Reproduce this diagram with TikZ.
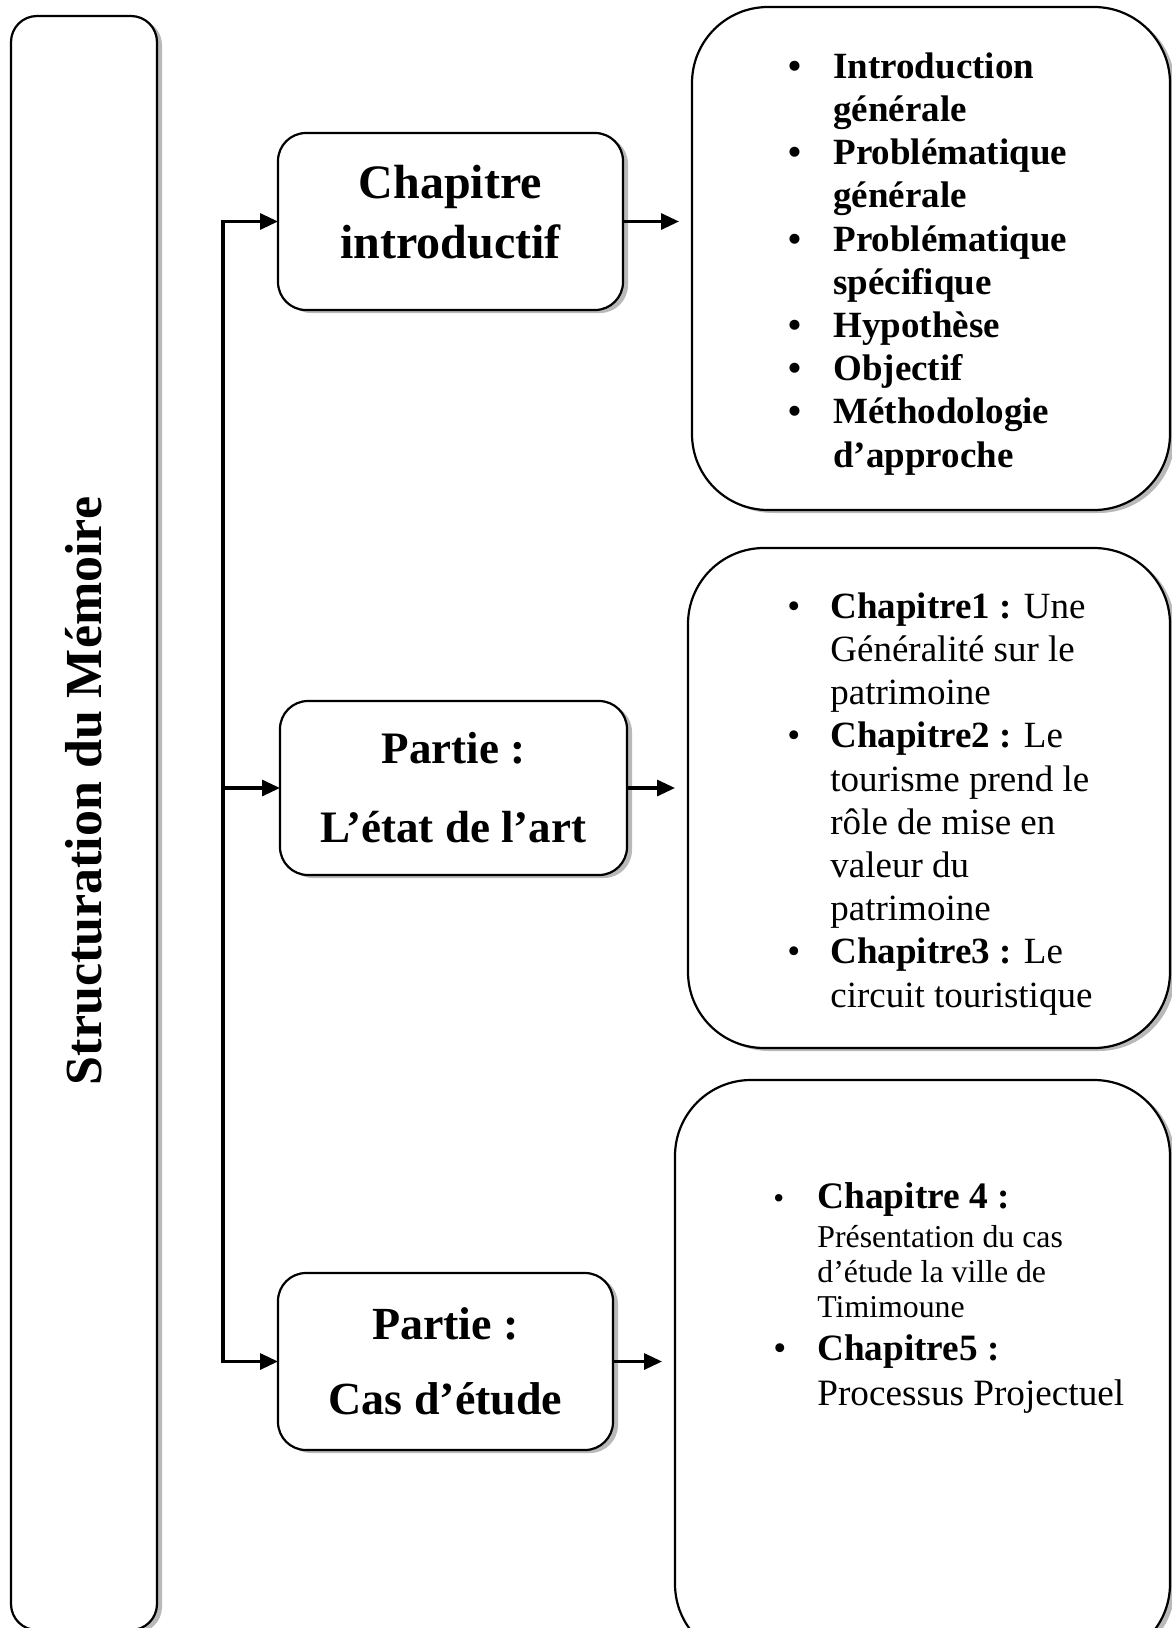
\documentclass[tikz,border=0pt]{standalone}
\usepackage{fontspec}
\setmainfont{Liberation Serif}
\usetikzlibrary{arrows.meta, shadows}

\tikzset{
  cadre/.style={draw, line width=1.1pt, fill=white, rounded corners=13pt,
    inner sep=0pt, outer sep=0pt,
    drop shadow={shadow xshift=2.5pt, shadow yshift=-1.5pt, opacity=.55}},
  partie/.style={cadre, rounded corners=14pt, align=center},
  liste/.style={cadre, rounded corners=38pt},
  puces/.style={anchor=west, inner sep=0pt},
  fleche/.style={line width=1.6pt, -{Triangle[length=9pt, width=8pt]}},
}

\begin{document}
\begin{tikzpicture}[x=0.5pt, y=-0.5pt]
\useasboundingbox (0,0) rectangle (1172,1628);
\clip (0,0) rectangle (1172,1628);

% Bandeau du memoire
\node[cadre, minimum width=73pt, minimum height=807pt] (memoire) at (84,823) {};
\node[rotate=90, font=\bfseries\fontsize{26}{30}\selectfont] (titre) at (84,791) {Structuration du Mémoire};

% Parties
\node[partie, minimum width=172.5pt, minimum height=88.5pt, text depth=10pt, font=\bfseries\fontsize{24}{30}\selectfont] (intro) at (450.5,221.5) {Chapitre\\introductif};
\node[partie, minimum width=173.5pt, minimum height=87pt, font=\bfseries\fontsize{22.5}{39.5}\selectfont] (etat) at (453.5,788) {Partie :\\L’état de l’art};
\node[partie, minimum width=167.5pt, minimum height=88.5pt, font=\bfseries\fontsize{23}{37.5}\selectfont] (cas) at (445.5,1361.5) {Partie :\\Cas d’étude};

% Contenus
\node[liste, minimum width=239pt, minimum height=251.5pt] (plan1) at (931,258.5) {};
\node[liste, minimum width=241pt, minimum height=250pt] (plan2) at (929,798) {};
\node[liste, minimum width=247.5pt, minimum height=290pt] (plan3) at (922.5,1370) {};

\node[puces, font=\bfseries\fontsize{18.5}{21.6}\selectfont] (txt1) at (788,264) {%
\begin{tabular}{@{}p{22.5pt}@{}l@{}}
\textbullet & Introduction\\
 & générale\\
\textbullet & Problématique\\
 & générale\\
\textbullet & Problématique\\
 & spécifique\\
\textbullet & Hypothèse\\
\textbullet & Objectif\\
\textbullet & Méthodologie\\
 & d’approche
\end{tabular}};

\node[puces, font=\fontsize{18.5}{21.6}\selectfont] (txt2) at (787,804) {%
\begin{tabular}{@{}p{21.5pt}@{}l@{}}
\textbullet & \textbf{Chapitre1 :} Une\\
 & Généralité sur le\\
 & patrimoine\\
\textbullet & \textbf{Chapitre2 :} Le\\
 & tourisme prend le\\
 & rôle de mise en\\
 & valeur du\\
 & patrimoine\\
\textbullet & \textbf{Chapitre3 :} Le\\
 & circuit touristique
\end{tabular}};

\node[puces, font=\fontsize{15.9}{17.6}\selectfont] (txt3) at (773,1299) {%
\begin{tabular}{@{}p{22pt}@{}l@{}}
\fontsize{15.5}{17}\selectfont\textbullet & \fontsize{18.7}{17}\selectfont\bfseries Chapitre 4 :\\[2pt]
 & Présentation du cas\\
 & d’étude la ville de\\
 & Timimoune\\[3.1pt]
\fontsize{18.6}{17}\selectfont\textbullet & \fontsize{18.6}{17}\selectfont\bfseries Chapitre5 :\\[4.2pt]
 & \fontsize{18.6}{17}\selectfont Processus Projectuel
\end{tabular}};

% Liaisons
\coordinate (spine) at (223,788);
\draw[fleche] (spine) |- (intro);
\draw[fleche] (spine) -- (etat);
\draw[fleche] (spine) |- (cas);
\draw[fleche, shorten >=6.5pt] (intro) -- (intro -| plan1.west);
\draw[fleche, shorten >=6.5pt] (etat) -- (etat -| plan2.west);
\draw[fleche, shorten >=6.5pt] (cas) -- (cas -| plan3.west);
\end{tikzpicture}
\end{document}
